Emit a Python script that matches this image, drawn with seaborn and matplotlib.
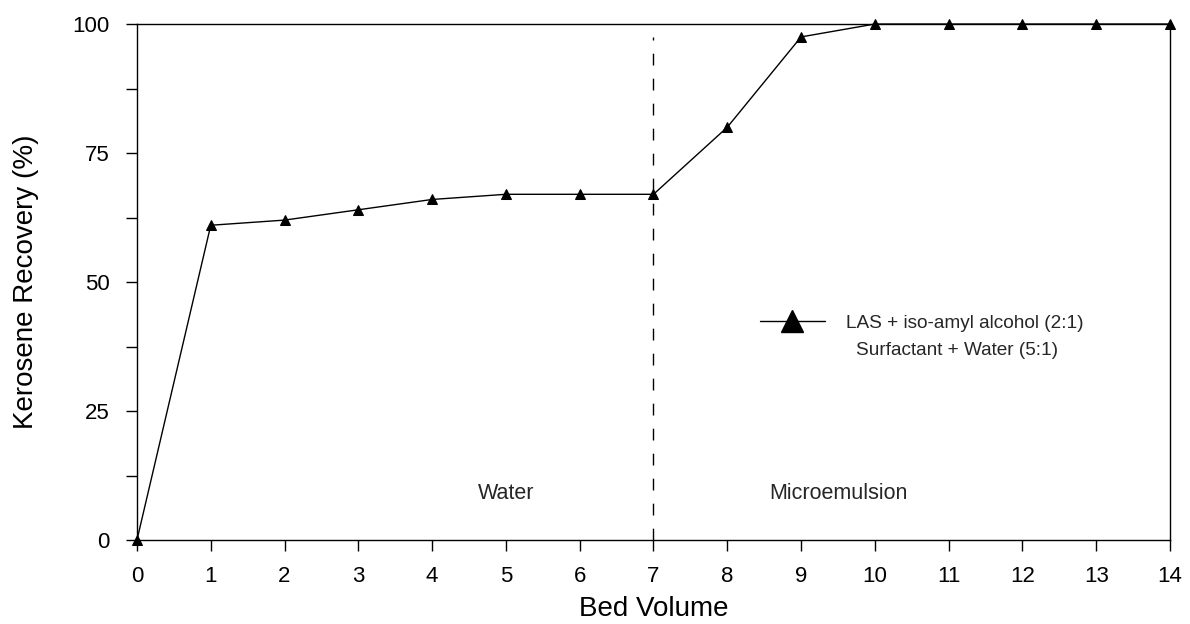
import matplotlib
matplotlib.use("Agg")
import matplotlib.pyplot as plt
from matplotlib.lines import Line2D
from matplotlib.ticker import MultipleLocator
import seaborn as sns
import pandas as pd

# Cumulative kerosene recovery per bed volume flushed
bed_volume = [0, 1, 2, 3, 4, 5, 6, 7, 8, 9, 10, 11, 12, 13, 14]
recovery = [0, 61, 62, 64, 66, 67, 67, 67, 80, 97.5, 100, 100, 100, 100, 100]

series_label = "LAS + iso-amyl alcohol (2:1)"
series_note = "Surfactant + Water (5:1)"
phase_labels = ["Water", "Microemulsion"]
switch_volume = 7

sns.set_theme(style="ticks")
plt.rcParams["font.family"] = ["Liberation Sans", "DejaVu Sans"]

df = pd.DataFrame({"Bed Volume": bed_volume, "Recovery": recovery})

fig = plt.figure(figsize=(11.9, 6.24), dpi=100)
ax = fig.add_axes([0.1151, 0.1346, 0.8681, 0.8269])

sns.lineplot(data=df, x="Bed Volume", y="Recovery", ax=ax, color="black",
             linewidth=1.0, marker="^", markersize=7.5, markeredgecolor="black",
             markerfacecolor="black", legend=False, clip_on=False, zorder=5)

# Dashed divider marking the switch from water to microemulsion flooding
ax.plot([switch_volume, switch_volume], [0, 97.5], color="black",
        linestyle=(0, (8.5, 9.5)), linewidth=1.0)

ax.set_xlim(0, 14)
ax.set_ylim(0, 100)
ax.xaxis.set_major_locator(MultipleLocator(1))
ax.yaxis.set_major_locator(MultipleLocator(25))
ax.yaxis.set_minor_locator(MultipleLocator(12.5))
ax.tick_params(axis="both", which="major", direction="out", length=8,
               width=1.0, color="black", labelsize=16, labelcolor="black")
ax.tick_params(axis="y", which="minor", direction="out", length=8,
               width=1.0, color="black")
ax.tick_params(axis="x", pad=11)
ax.tick_params(axis="y", pad=11.5)
for side in ax.spines.values():
    side.set_visible(True)
    side.set_color("black")
    side.set_linewidth(1.0)

ax.set_xlabel("Bed Volume", fontsize=20, color="black")
ax.set_ylabel("Kerosene Recovery (%)", fontsize=20, color="black")
ax.xaxis.set_label_coords(0.5, -0.108)
ax.yaxis.set_label_coords(-0.095, 0.5)

ax.text(5.0, 9, phase_labels[0], fontsize=15.5, ha="center", va="center")
ax.text(9.5, 9, phase_labels[1], fontsize=15.5, ha="center", va="center")

handle = Line2D([], [], color="black", linewidth=1.0, marker="^",
                markersize=16, markerfacecolor="black")
ax.legend([handle], [series_label], loc="center left",
          bbox_to_anchor=(0.603, 0.42), frameon=False, fontsize=13.7,
          handlelength=3.4, handletextpad=1.15, borderpad=0,
          borderaxespad=0)
ax.text(11.11, 36.8, series_note, fontsize=13.7, ha="center", va="center")

fig.savefig("out.png", dpi=100)
